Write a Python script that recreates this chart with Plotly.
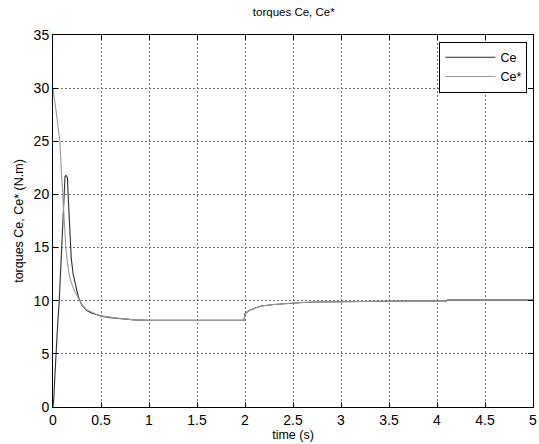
import plotly.graph_objects as go

# Ce (electromagnetic torque)
ce_t = [0, 0.01, 0.02, 0.03, 0.05, 0.065, 0.08, 0.09, 0.11, 0.125, 0.135, 0.15, 0.16, 0.175, 0.19,
        0.21, 0.23, 0.25, 0.27, 0.3, 0.35, 0.4, 0.45, 0.5, 0.6, 0.7, 0.85, 1.0, 1.5, 1.99,
        2.0, 2.04, 2.1, 2.17, 2.3, 2.42, 2.6, 2.76, 3.0, 3.17, 3.33, 3.7, 4.1, 4.11, 4.5, 5.0]
ce_v = [0, 1.0, 3.0, 5.0, 8.0, 10.0, 13.0, 15.0, 19.5, 21.7, 21.8, 21.6, 19.5, 16.5, 14.0,
        12.5, 11.6, 10.9, 10.2, 9.6, 9.1, 8.85, 8.7, 8.55, 8.4, 8.3, 8.2, 8.15, 8.15, 8.15,
        8.8, 9.06, 9.3, 9.5, 9.65, 9.75, 9.83, 9.88, 9.92, 9.94, 9.97, 9.98, 9.98, 10.08, 10.08, 10.08]

# Ce* (reference torque)
cer_t = [0, 0.02, 0.04, 0.06, 0.072, 0.085, 0.1, 0.115, 0.134, 0.15, 0.17, 0.19, 0.22, 0.25,
         0.27, 0.3, 0.35, 0.4, 0.45, 0.5, 0.6, 0.7, 0.85, 1.0, 1.5, 1.99,
         2.0, 2.04, 2.1, 2.17, 2.3, 2.42, 2.6, 2.76, 3.0, 3.17, 3.33, 3.7, 4.1, 4.11, 4.5, 5.0]
cer_v = [30.0, 28.8, 27.3, 25.8, 25.0, 22.5, 20.0, 17.5, 15.0, 13.6, 12.4, 11.7, 11.0, 10.5,
         10.2, 9.65, 9.15, 8.9, 8.72, 8.57, 8.42, 8.32, 8.2, 8.15, 8.15, 8.15,
         8.8, 9.06, 9.3, 9.5, 9.65, 9.75, 9.83, 9.88, 9.92, 9.94, 9.97, 9.98, 9.98, 10.08, 10.08, 10.08]

x_ticks = [0, 0.5, 1, 1.5, 2, 2.5, 3, 3.5, 4, 4.5, 5]
x_ticklabels = ["0", "0.5", "1", "1.5", "2", "2.5", "3", "3.5", "4", "4.5", "5"]
y_ticks = [0, 5, 10, 15, 20, 25, 30, 35]

fig = go.Figure()
fig.add_trace(go.Scatter(x=ce_t, y=ce_v, mode="lines", name="Ce",
                         line=dict(color="#2e2e2e", width=1.1)))
fig.add_trace(go.Scatter(x=cer_t, y=cer_v, mode="lines", name="Ce*",
                         line=dict(color="#9a9a9a", width=1.1)))

axis_common = dict(
    showgrid=True, gridcolor="#707070", griddash="2px,2px", gridwidth=1,
    showline=True, linecolor="black", linewidth=1, mirror="ticks",
    ticks="inside", ticklen=5, tickcolor="black", zeroline=False,
    ticklabeloverflow="allow",
    tickfont=dict(family="Liberation Sans, Arial, sans-serif", size=14, color="black"),
)

fig.update_layout(
    width=539, height=444,
    margin=dict(l=53, r=2, t=35, b=37),
    paper_bgcolor="white", plot_bgcolor="white",
    font=dict(family="Liberation Sans, Arial, sans-serif", color="black"),
    title=dict(text="torques Ce, Ce*", x=0.545, xanchor="center", y=0.973, yanchor="middle",
               font=dict(size=11.5)),
    xaxis=dict(range=[0, 5], tickvals=x_ticks, ticktext=x_ticklabels,
               title=dict(text="time (s)", font=dict(size=12.5), standoff=2), **axis_common),
    yaxis=dict(range=[0, 35], tickvals=y_ticks,
               title=dict(text="torques Ce, Ce* (N.m)", font=dict(size=12.5), standoff=7), **axis_common),
    legend=dict(x=0.805, y=0.982, xanchor="left", yanchor="top",
                bgcolor="white", bordercolor="black", borderwidth=1,
                font=dict(size=12.5), itemwidth=50, tracegroupgap=0),
    showlegend=True,
)

fig.write_html("out.html", config={"displayModeBar": False},
               post_script="document.body.style.margin='0px';document.body.style.overflow='hidden';")
